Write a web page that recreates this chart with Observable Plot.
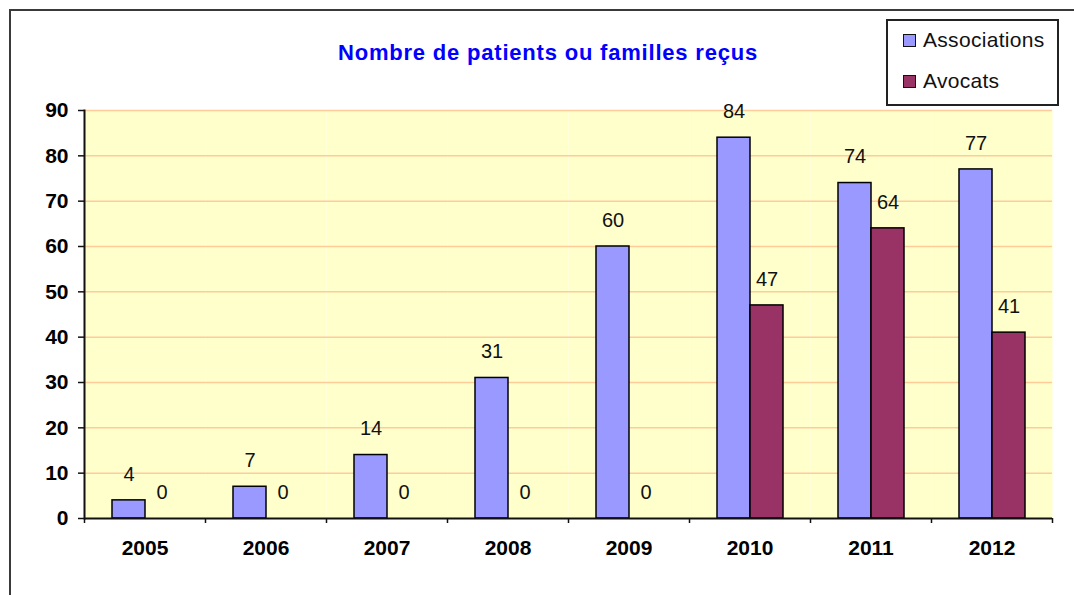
<!DOCTYPE html>
<html><head><meta charset="utf-8">
<script src="https://cdn.jsdelivr.net/npm/d3@7"></script>
<script src="https://cdn.jsdelivr.net/npm/@observablehq/plot@0.6"></script>
<style>
body{margin:0;background:#fff;}
#wrap{position:relative;width:1074px;height:595px;overflow:hidden;font-family:"Liberation Sans",Arial,sans-serif;}
#border{position:absolute;left:9px;top:9px;width:1200px;height:800px;border:2px solid #3a3a3a;}
#title{position:absolute;left:548px;top:40px;transform:translateX(-50%);white-space:nowrap;color:#0000FF;font-weight:bold;font-size:22px;letter-spacing:0.8px;}
#legend{position:absolute;left:886px;top:19px;width:169px;height:83px;border:2px solid #222;background:#fff;}
.item{position:absolute;left:15px;display:flex;align-items:center;font-size:21px;color:#111;letter-spacing:0.3px;}
.sw{width:11px;height:11px;border:1.5px solid #111;margin-right:7px;}
#chart{position:absolute;left:0;top:0;}
</style></head>
<body>
<div id="wrap">
  <div id="border"></div>
  <div id="chart"></div>
  <div id="title">Nombre de patients ou familles reçus</div>
  <div id="legend"></div>
</div>
<script>
const years = ["2005","2006","2007","2008","2009","2010","2011","2012"];
const series = ["Associations","Avocats"];
const associations = [4,7,14,31,60,84,74,77];
const avocats = [0,0,0,0,0,47,64,41];
const yTicks = [0,10,20,30,40,50,60,70,80,90];
const colors = ["#9999FF","#993366"];

const data = years.flatMap((y,i)=>[
  {year:y, series:series[0], value:associations[i]},
  {year:y, series:series[1], value:avocats[i]}
]);

const chart = Plot.plot({
  width:1074, height:595,
  marginLeft:84, marginRight:22, marginTop:110, marginBottom:77,
  style:{fontFamily:"Liberation Sans, Arial, sans-serif", background:"transparent", overflow:"visible", color:"#000"},
  fx:{domain:years, padding:0, label:null},
  x:{domain:series, paddingInner:0, paddingOuter:0.78, axis:null},
  y:{domain:[0,90], label:null},
  color:{domain:series, range:colors},
  marks:[
    Plot.frame({fill:"#FFFFCC", stroke:null}),
    Plot.gridY(yTicks.filter(d=>d>0), {stroke:"#FFCC99", strokeOpacity:1, strokeWidth:1.5}),
    Plot.barY(data, {fx:"year", x:"series", y:"value", fill:"series", stroke:"#000", strokeWidth:1.5}),
    Plot.text(data, {fx:"year", x:"series", y:"value", text:"value", dy:-26, fontSize:20, fill:"#111"}),
    Plot.ruleY([0], {stroke:"#111", strokeWidth:2}),
    Plot.frame({anchor:"left", facetAnchor:"left", stroke:"#111", strokeWidth:2}),
    Plot.axisY(yTicks, {anchor:"left", tickSize:6, tickPadding:10, fontSize:21, fontWeight:"bold", label:null, stroke:"#111", strokeWidth:1.5}),
    Plot.axisFx({anchor:"bottom", tickSize:0, tickPadding:22, fontSize:21, fontWeight:"bold", label:null}),
    Plot.axisFx({anchor:"bottom", tickSize:5, tickFormat:()=>"", dx:-60.5, label:null, stroke:"#111", strokeWidth:1.5}),
    Plot.axisFx({anchor:"bottom", ticks:["2012"], tickSize:5, tickFormat:()=>"", dx:60.5, label:null, stroke:"#111", strokeWidth:1.5})
  ]
});
document.getElementById("chart").appendChild(chart);

const legend = document.getElementById("legend");
series.forEach((s,i)=>{
  const it = document.createElement("div");
  it.className = "item";
  it.style.top = (i===0 ? 7 : 48) + "px";
  it.innerHTML = `<div class="sw" style="background:${colors[i]}"></div><span>${s}</span>`;
  legend.appendChild(it);
});
</script>
</body></html>
